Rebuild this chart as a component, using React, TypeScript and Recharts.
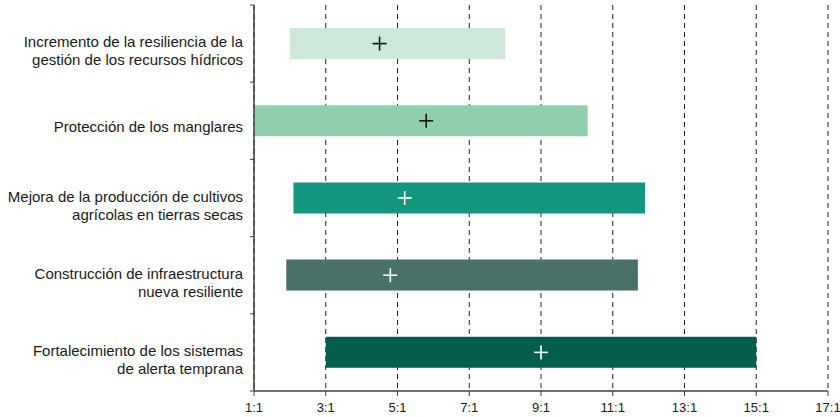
import {
  ComposedChart,
  Bar,
  Scatter,
  XAxis,
  YAxis,
  CartesianGrid,
  Cell,
} from "recharts";

const categories = [
  "Incremento de la resiliencia de la\ngestión de los recursos hídricos",
  "Protección de los manglares",
  "Mejora de la producción de cultivos\nagrícolas en tierras secas",
  "Construcción de infraestructura\nnueva resiliente",
  "Fortalecimiento de los sistemas\nde alerta temprana",
];
const lowValues = [2.0, 1.0, 2.1, 1.9, 3.0];
const highValues = [8.0, 10.3, 11.9, 11.7, 15.0];
const markValues = [4.5, 5.8, 5.2, 4.8, 9.0];
const xTicks = [1, 3, 5, 7, 9, 11, 13, 15, 17];

const barColors = ["#cde7d8", "#90cfaa", "#12967e", "#4a7169", "#035e50"];
const markColors = ["#111111", "#111111", "#ffffff", "#ffffff", "#ffffff"];

const FONT = "'Liberation Sans', Arial, Helvetica, sans-serif";
const AXIS = "#404040";
const LABEL_GAP = 11;

const rows = categories.map((name, i) => ({
  name,
  range: [lowValues[i], highValues[i]],
  mark: markValues[i],
  idx: i,
}));

// label on the left + small tick marks at the band edges
// eslint-disable-next-line @typescript-eslint/no-explicit-any
function CategoryTick({ x, y, payload, index }: any) {
  const lines = String(payload.value).split("\n");
  const half = payload.offset ?? 0;
  const ax = x + LABEL_GAP;
  return (
    <g>
      <line x1={ax - 4} x2={ax} y1={y - half} y2={y - half} stroke={AXIS} />
      {index === categories.length - 1 && (
        <line x1={ax - 4} x2={ax} y1={y + half} y2={y + half} stroke={AXIS} />
      )}
      <text textAnchor="end" fontSize={15} fill="#1a1a1a" fontFamily={FONT}>
        {lines.map((line, i) => (
          <tspan
            key={i}
            x={x}
            y={y + 11 + (lines.length > 1 ? 1.5 : 0) + (i - (lines.length - 1) / 2) * 18}
          >
            {line}
          </tspan>
        ))}
      </text>
    </g>
  );
}

// eslint-disable-next-line @typescript-eslint/no-explicit-any
function PlusMark({ cx, cy, payload }: any) {
  if (cx == null || cy == null) return null;
  const c = markColors[payload.idx];
  const r = 7;
  return (
    <g>
      <line x1={cx - r} x2={cx + r} y1={cy} y2={cy} stroke={c} strokeWidth={1.6} />
      <line x1={cx} x2={cx} y1={cy - r} y2={cy + r} stroke={c} strokeWidth={1.6} />
    </g>
  );
}

export default function App() {
  return (
    <div style={{ position: "absolute", left: 0, top: 0, fontFamily: FONT }}>
      <ComposedChart
        layout="vertical"
        width={840}
        height={417}
        data={rows}
        margin={{ top: 5, right: 12, bottom: 0, left: 0 }}
      >
        <CartesianGrid
          horizontal={false}
          stroke="#222"
          strokeDasharray="5 4"
        />
        <YAxis
          dataKey="name"
          type="category"
          width={254}
          interval={0}
          tickLine={false}
          tickSize={0}
          tickMargin={LABEL_GAP}
          axisLine={{ stroke: AXIS, strokeWidth: 1.5 }}
          tick={<CategoryTick />}
        />
        <XAxis
          type="number"
          domain={[1, 17]}
          ticks={xTicks}
          interval={0}
          allowDataOverflow
          height={26}
          tickSize={5}
          tickMargin={7}
          tickFormatter={(v: number) => `${v}:1`}
          axisLine={{ stroke: AXIS, strokeWidth: 1.5 }}
          tickLine={{ stroke: AXIS }}
          tick={{ fontSize: 13, fill: "#1a1a1a", fontFamily: FONT }}
        />
        <Bar dataKey="range" barSize={31} isAnimationActive={false}>
          {rows.map((r) => (
            <Cell key={r.name} fill={barColors[r.idx]} />
          ))}
        </Bar>
        <Scatter
          dataKey="mark"
          isAnimationActive={false}
          shape={(p: unknown) => <PlusMark {...(p as object)} />}
        />
      </ComposedChart>
    </div>
  );
}
